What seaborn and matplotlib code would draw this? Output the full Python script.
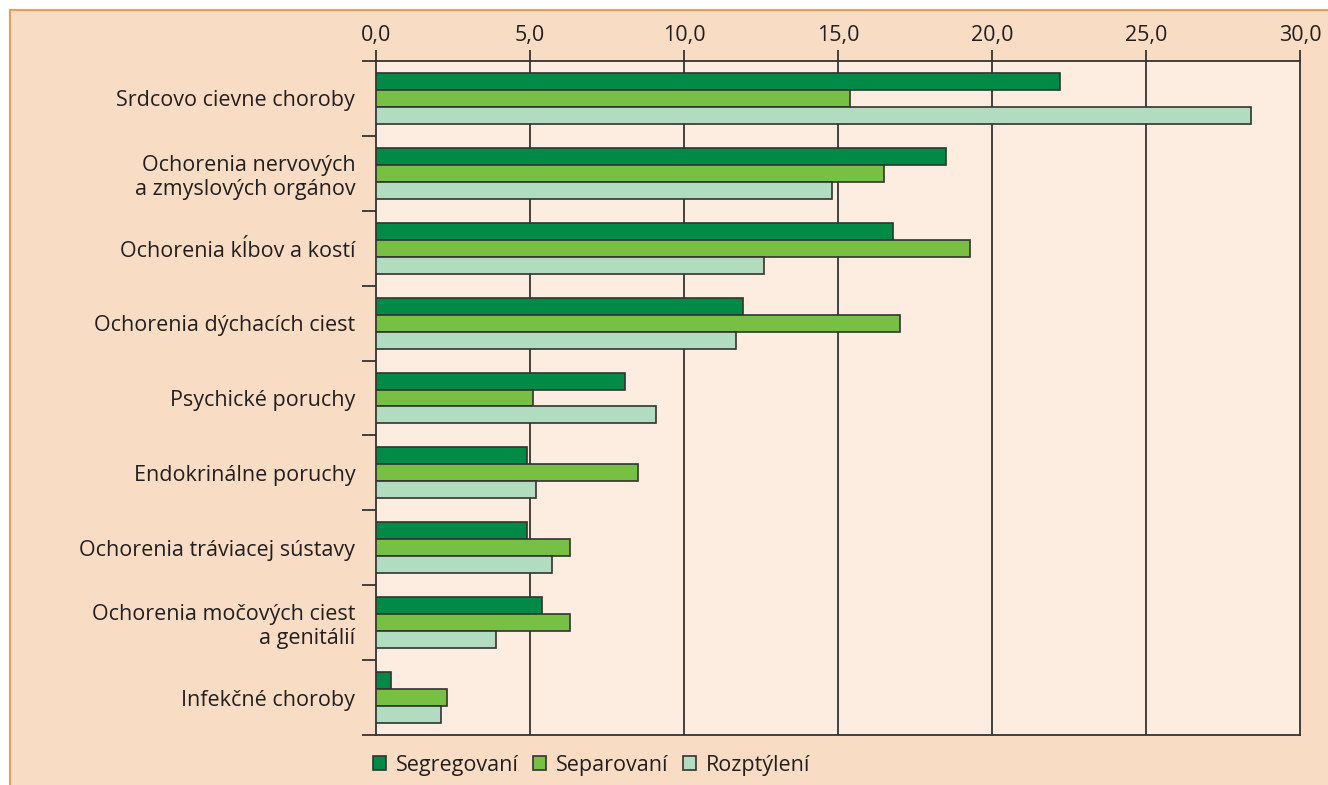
import matplotlib
matplotlib.use("Agg")
import matplotlib.pyplot as plt
from matplotlib.patches import Rectangle
import matplotlib.ticker as mticker
import seaborn as sns
import pandas as pd

categories = [
    "Srdcovo cievne choroby",
    "Ochorenia nervových\na zmyslových orgánov",
    "Ochorenia kĺbov a kostí",
    "Ochorenia dýchacích ciest",
    "Psychické poruchy",
    "Endokrinálne poruchy",
    "Ochorenia tráviacej sústavy",
    "Ochorenia močových ciest\na genitálií",
    "Infekčné choroby",
]
series = ["Segregovaní", "Separovaní", "Rozptýlení"]
segregovani = [22.2, 18.5, 16.8, 11.9, 8.1, 4.9, 4.9, 5.4, 0.5]
separovani = [15.4, 16.5, 19.3, 17.0, 5.1, 8.5, 6.3, 6.3, 2.3]
rozptyleni = [28.4, 14.8, 12.6, 11.7, 9.1, 5.2, 5.7, 3.9, 2.1]
xticks = [0, 5, 10, 15, 20, 25, 30]
xticklabels = ["0,0", "5,0", "10,0", "15,0", "20,0", "25,0", "30,0"]

colors = ["#008a45", "#78c043", "#b2dcc0"]

rows = []
for name, vals in zip(series, [segregovani, separovani, rozptyleni]):
    for c, v in zip(categories, vals):
        rows.append({"cat": c, "series": name, "val": v})
df = pd.DataFrame(rows)

sns.set_style("white")
plt.rcParams["font.family"] = ["Open Sans", "DejaVu Sans"]
text_color = "#231f20"
fs = 15.5

fig = plt.figure(figsize=(13.28, 7.85), dpi=100, facecolor="white")
fig.patches.append(Rectangle((10 / 1328, -0.5), 2.0, 0.5 + 1 - 10 / 785,
                             transform=fig.transFigure, facecolor="#f9dcc4",
                             edgecolor="#f39a52", linewidth=1.5, zorder=-10))

ax = fig.add_axes([376 / 1328, 1 - 735 / 785, 924 / 1328, 674 / 785])
ax.set_facecolor("#fdece0")

sns.barplot(data=df, y="cat", x="val", hue="series", orient="h",
            palette=colors, width=0.68, edgecolor="#333333", linewidth=1.2,
            saturation=1, ax=ax, legend=True, zorder=3)

ax.set_xlim(0, 30)
ax.set_ylim(8.5, -0.5)
ax.set_xlabel("")
ax.set_ylabel("")

for x in xticks[1:-1]:
    ax.axvline(x, color="#333333", linewidth=1.3, zorder=1)

ax.xaxis.tick_top()
ax.set_xticks(xticks)
ax.set_xticklabels(xticklabels)
ax.tick_params(axis="x", which="major", length=8, width=1.3, color="#333333",
               labelsize=fs, labelcolor=text_color, pad=3, top=True, bottom=False)

ax.set_yticks(range(len(categories)))
ax.set_yticklabels(categories, ha="right")
ax.tick_params(axis="y", which="major", length=0, labelsize=fs,
               labelcolor=text_color, pad=15)
ax.yaxis.set_minor_locator(mticker.FixedLocator([i - 0.5 for i in range(len(categories) + 1)]))
ax.tick_params(axis="y", which="minor", length=10, width=1.3, color="#333333", left=True)

for s in ["top", "left", "bottom", "right"]:
    ax.spines[s].set_visible(True)
    ax.spines[s].set_color("#333333")
    ax.spines[s].set_linewidth(1.3)

leg = ax.get_legend()
handles = leg.legend_handles
leg.remove()
fig.legend(handles, series, loc="center left",
           bbox_to_anchor=(354 / 1328, 1 - 765 / 785), ncol=3, frameon=False,
           fontsize=fs, handlelength=0.6, handleheight=0.6, handletextpad=0.47,
           columnspacing=0.65, labelcolor=text_color)

fig.savefig("out.png", dpi=100, facecolor="white")
